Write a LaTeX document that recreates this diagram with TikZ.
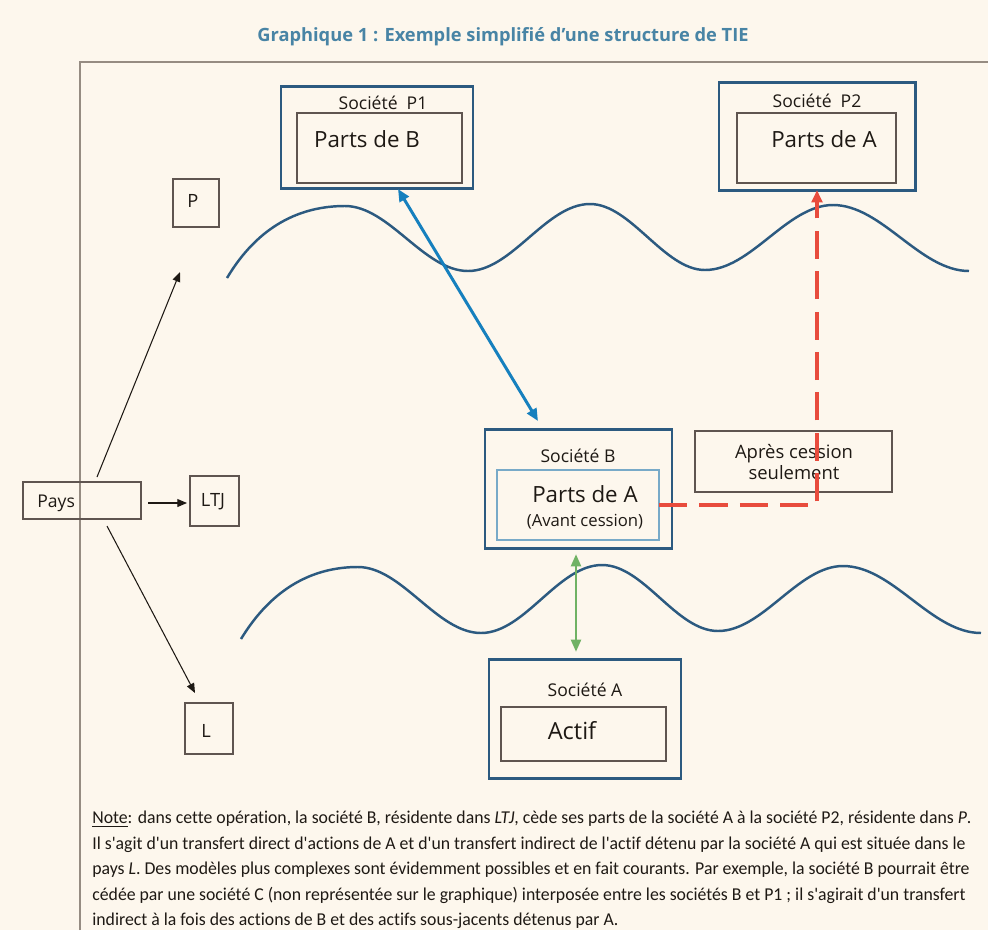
\documentclass[tikz,border=0pt]{standalone}
\usepackage{fontspec}
\setmainfont{Open Sans}
\newfontfamily\notefont[FakeStretch=0.98,Ligatures=NoCommon]{Carlito}
\usetikzlibrary{arrows.meta}
\definecolor{bgc}{RGB}{253,247,237}
\definecolor{titlec}{RGB}{72,132,165}
\definecolor{darkblue}{RGB}{44,90,128}
\definecolor{thinc}{RGB}{95,85,80}
\definecolor{framec}{RGB}{150,140,130}
\definecolor{lightblue}{RGB}{120,170,200}
\definecolor{arrowblue}{RGB}{22,128,190}
\definecolor{arrowred}{RGB}{232,76,61}
\definecolor{arrowgreen}{RGB}{112,178,100}
\definecolor{txt}{RGB}{30,25,20}
\tikzset{
  thickbox/.style={draw=darkblue, line width=1.7pt, inner sep=0pt},
  thinbox/.style={draw=thinc, line width=0.6pt, inner sep=0pt},
  labelS/.style={text=txt, font=\fontsize{10}{12}\selectfont, inner sep=0pt},
  labelL/.style={text=txt, font=\fontsize{12.7}{15}\selectfont, inner sep=0pt},
  wave/.style={draw=darkblue, line width=1.4pt},
  blackarrow/.style={draw=txt, line width=0.6pt, -{Triangle[length=5.5pt,width=4.5pt]}},
}
\begin{document}
\begin{tikzpicture}[x=0.2mm,y=-0.2mm]
\useasboundingbox[fill=bgc] (0,0) rectangle (988,930);
% title
\node[text=titlec, font=\bfseries\fontsize{10.4}{12}\selectfont, inner sep=0pt] (title) at (503,37) {Graphique 1 : Exemple simplifié d’une structure de TIE};
% frame
\draw[framec, line width=0.6pt] (80,930) -- (80,62) -- (988,62);
% waves
\draw[wave] (227,278) .. controls (258,226) and (300,206) .. (345,206)
  .. controls (389,206) and (424,271) .. (468,271)
  .. controls (512,271) and (546,204) .. (590,204)
  .. controls (631,204) and (664,270) .. (705,270)
  .. controls (751,270) and (787,205) .. (833,205)
  .. controls (882,205) and (920,271) .. (969,271);
\draw[wave] (241,639) .. controls (272,588) and (313,567) .. (358,567)
  .. controls (402,567) and (437,633) .. (481,633)
  .. controls (525,633) and (558,565) .. (602,565)
  .. controls (644,565) and (676,631) .. (718,631)
  .. controls (763,631) and (798,566) .. (843,566)
  .. controls (893,566) and (931,633) .. (981,633);
% boxes
\node[thickbox, minimum width=192*0.2mm, minimum height=102*0.2mm] (p1) at (377,137) {};
\node[thinbox, minimum width=165*0.2mm, minimum height=70*0.2mm] (p1in) at (379.5,148) {};
\node[thickbox, minimum width=196*0.2mm, minimum height=108*0.2mm] (p2) at (817,136) {};
\node[thinbox, minimum width=159*0.2mm, minimum height=70*0.2mm] (p2in) at (816.5,148) {};
\node[thinbox, minimum width=46*0.2mm, minimum height=48*0.2mm] (pbox) at (196,203) {};
\node[thinbox, minimum width=49*0.2mm, minimum height=50*0.2mm] (ltj) at (214.5,501) {};
\node[thinbox, minimum width=48*0.2mm, minimum height=51*0.2mm] (lbox) at (209,728.5) {};
\node[thinbox, minimum width=118*0.2mm, minimum height=37*0.2mm] (pays) at (82,500.5) {};
\node[thickbox, minimum width=187*0.2mm, minimum height=119*0.2mm] (sb) at (578.5,488.5) {};
\node[draw=lightblue, line width=0.6pt, inner sep=0pt, minimum width=162*0.2mm, minimum height=70*0.2mm] (sbin) at (578,505) {};
\node[thinbox, minimum width=197*0.2mm, minimum height=61*0.2mm] (apres) at (793.5,461.5) {};
\node[thickbox, minimum width=192*0.2mm, minimum height=119*0.2mm] (sa) at (585,718.5) {};
\node[thinbox, minimum width=165*0.2mm, minimum height=54*0.2mm] (sain) at (583.5,734) {};
% texts
\node[labelS] (t1) at (383,103) {Société\ \ P1};
\node[labelL] (t2) at (367,139) {Parts de B};
\node[labelS] (t3) at (817,101) {Société\ \ P2};
\node[labelL] (t4) at (824,139) {Parts de A};
\node[labelS, font=\fontsize{10.4}{12}\selectfont] (t5) at (193,201) {P};
\node[labelS, font=\fontsize{10.4}{12}\selectfont] (t6) at (213,502) {LTJ};
\node[labelS, font=\fontsize{10.4}{12}\selectfont] (t7) at (206,731) {L};
\node[labelS, anchor=west] (t8) at (37,503) {Pays};
\node[labelS] (t9) at (578,456) {Société B};
\node[labelL] (t10) at (585,494) {Parts de A};
\node[labelS, font=\fontsize{9.5}{11}\selectfont] (t11) at (585,522) {(Avant cession)};
\node[labelS, align=center, font=\fontsize{10.5}{12}\selectfont] (t12) at (794,462) {Après cession\\[0.5pt]seulement};
\node[labelS] (t13) at (585,690) {Société A};
\node[labelL, font=\fontsize{13.4}{15}\selectfont] (t14) at (572,731) {Actif};
% connector coordinates
\coordinate (pa1) at (97,477);
\coordinate (pa1e) at (180,272);
\coordinate (pa2) at (148,503);
\coordinate (pa2e) at (187,503);
\coordinate (pa3) at (107,526);
\coordinate (pa3e) at (195,693);
\coordinate (bl1) at (398,189);
\coordinate (bl2) at (538,421);
\coordinate (gr1) at (576,554);
\coordinate (gr2) at (576,652);
\coordinate (rd1) at (659,505);
\coordinate (rd2) at (817,505);
\coordinate (rd3) at (817,190);
% connectors
\draw[blackarrow] (pa1) -- (pa1e);
\draw[blackarrow] (pa2) -- (pa2e);
\draw[blackarrow] (pa3) -- (pa3e);
\draw[arrowblue, line width=1.7pt, {Triangle[length=7pt,width=6pt]}-{Triangle[length=7pt,width=6pt]}] (bl1) -- (bl2);
\draw[arrowgreen, line width=1.7pt, {Triangle[length=7pt,width=5.5pt]}-{Triangle[length=7pt,width=5.5pt]}] (gr1) -- (gr2);
\draw[arrowred, line width=2pt, dash pattern=on 16pt off 7pt, -{Triangle[length=7pt,width=6pt]}] (rd1) -- (rd2) -- (rd3);
% note
\node[anchor=north west, inner sep=0pt, align=left, text=txt, font=\notefont\fontsize{10.3}{14.5}\selectfont] (note) at (92,811)
{\underline{Note}: dans cette opération, la société B, résidente dans \textit{LTJ}, cède ses parts de la société A à la société P2, résidente dans \textit{P}.\\
Il s'agit d'un transfert direct d'actions de A et d'un transfert indirect de l'actif détenu par la société A qui est située dans le\\
pays \textit{L}. Des modèles plus complexes sont évidemment possibles et en fait courants. Par exemple, la société B pourrait être\\
cédée par une société C (non représentée sur le graphique) interposée entre les sociétés B et P1 ; il s'agirait d'un transfert\\
indirect à la fois des actions de B et des actifs sous-jacents détenus par A.};
\end{tikzpicture}
\end{document}
